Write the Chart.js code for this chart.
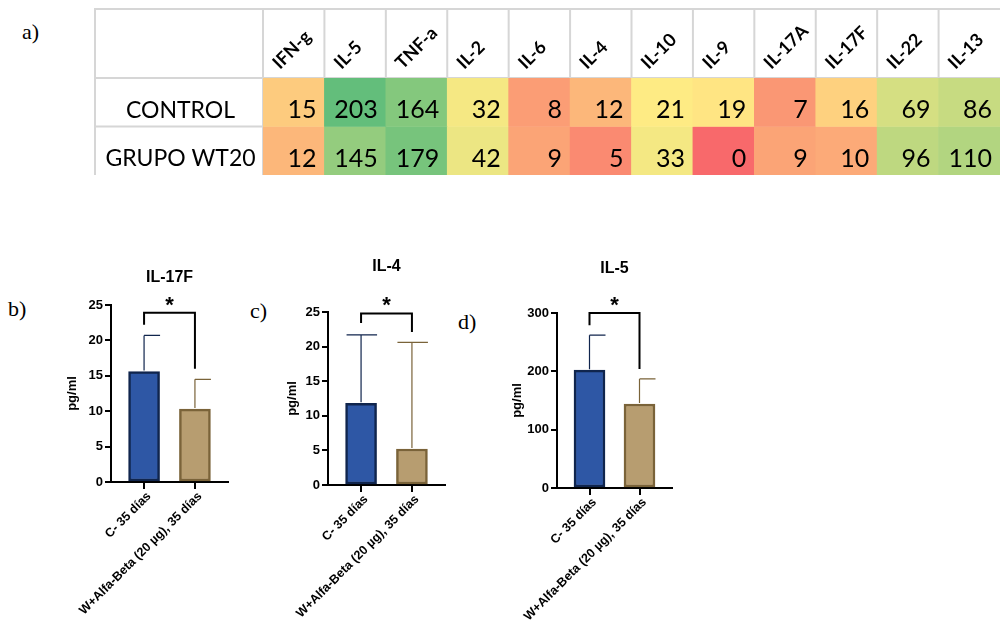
<!DOCTYPE html>
<html>
<head>
<meta charset="utf-8">
<title>Citocinas</title>
<script src="https://cdn.jsdelivr.net/npm/chart.js@4.4.0/dist/chart.umd.min.js"></script>
<style>
    html, body { margin: 0; padding: 0; background: #fff; }
    body { width: 1000px; height: 628px; position: relative; overflow: hidden; }
    .panel { position: absolute; font-family: "Liberation Serif", "Times New Roman", serif; font-size: 22px; line-height: 22px; color: #000; }
    canvas { position: absolute; }
</style>
</head>
<body>
<div class="panel" style="left:22px;top:21px">a)</div>
<div class="panel" style="left:8px;top:298px">b)</div>
<div class="panel" style="left:250px;top:300px">c)</div>
<div class="panel" style="left:458px;top:311px">d)</div>

<canvas id="heatmap" width="906" height="167" style="left:94px;top:8px"></canvas>
<canvas id="chartIL17F"></canvas>
<canvas id="chartIL4"></canvas>
<canvas id="chartIL5"></canvas>

<script>
// ---- data ----
const cytokines = ['IFN-g', 'IL-5', 'TNF-a', 'IL-2', 'IL-6', 'IL-4', 'IL-10', 'IL-9', 'IL-17A', 'IL-17F', 'IL-22', 'IL-13'];
const rowLabels = ['CONTROL', 'GRUPO WT20'];
const controlValues = [15, 203, 164, 32, 8, 12, 21, 19, 7, 16, 69, 86];
const wt20Values = [12, 145, 179, 42, 9, 5, 33, 0, 9, 10, 96, 110];

const groupLabels = ['C- 35 días', 'W+Alfa-Beta (20 µg), 35 días'];
const il17fMeans = [15.6, 10.3];
const il17fSd = [5.1, 4.2];
const il4Means = [11.8, 5.2];
const il4Sd = [9.9, 15.4];
const il5Means = [202, 144];
const il5Sd = [60, 43];

// ---- heatmap (panel a) ----
const heatFont = 'Lato, "Open Sans", sans-serif';

// excel style 3-colour scale: min red, median yellow, max green
function colourScale(allValues) {
    const sorted = [...allValues].sort((a, b) => a - b);
    const lo = sorted[0];
    const hi = sorted[sorted.length - 1];
    const rank = 0.5 * (sorted.length - 1);
    const mid = sorted[Math.floor(rank)] + (sorted[Math.ceil(rank)] - sorted[Math.floor(rank)]) * (rank - Math.floor(rank));
    const red = [248, 105, 107], yellow = [255, 235, 132], green = [99, 190, 123];
    return v => {
        let a, b, t;
        if (v <= mid) { a = red; b = yellow; t = (v - lo) / (mid - lo); }
        else { a = yellow; b = green; t = (v - mid) / (hi - mid); }
        const c = a.map((ch, k) => Math.round(ch + (b[k] - ch) * t));
        return `rgb(${c[0]}, ${c[1]}, ${c[2]})`;
    };
}

const rowValues = [controlValues, wt20Values];
const cellColour = colourScale(controlValues.concat(wt20Values));

const tablePlugin = {
    id: 'tableDecor',
    beforeDatasetsDraw(chart) {
        const { ctx, chartArea, scales: { x, y } } = chart;
        const half = (x.getPixelForValue(1) - x.getPixelForValue(0)) / 2;
        ctx.save();
        ctx.strokeStyle = '#d6d6d6';
        ctx.lineWidth = 2;
        ctx.beginPath();
        ctx.moveTo(0, 1); ctx.lineTo(chart.width, 1);
        ctx.moveTo(1, 0); ctx.lineTo(1, chart.height);
        ctx.moveTo(0, chartArea.top); ctx.lineTo(chart.width, chartArea.top);
        const rowSep = y.getPixelForValue(1);
        ctx.moveTo(0, rowSep); ctx.lineTo(chartArea.left, rowSep);
        cytokines.forEach((c, i) => {
            const px = x.getPixelForValue(i) - half;
            ctx.moveTo(px, 0);
            ctx.lineTo(px, i === 0 ? chart.height : chartArea.top);
        });
        ctx.stroke();
        ctx.restore();
    },
    afterDatasetsDraw(chart) {
        const { ctx, chartArea, scales: { x, y } } = chart;
        const half = (x.getPixelForValue(1) - x.getPixelForValue(0)) / 2;
        ctx.save();
        ctx.fillStyle = '#000';

        // rotated column headers
        ctx.font = `bold 18px ${heatFont}`;
        ctx.textAlign = 'left';
        ctx.textBaseline = 'alphabetic';
        cytokines.forEach((c, i) => {
            const left = x.getPixelForValue(i) - half;
            ctx.save();
            ctx.translate(left + 17, chartArea.top - 8);
            ctx.rotate(-Math.PI / 4);
            ctx.fillText(c, 0, 0);
            ctx.restore();
        });

        // row labels + cell values
        rowValues.forEach((vals, r) => {
            const bottom = y.getPixelForValue(r + 1);
            ctx.font = `23px ${heatFont}`;
            ctx.textAlign = 'center';
            ctx.fillText(rowLabels[r], chartArea.left / 2 + 2, bottom - 9);
            ctx.font = `25px ${heatFont}`;
            ctx.textAlign = 'right';
            vals.forEach((v, i) => {
                ctx.fillText(String(v), x.getPixelForValue(i) + half - 8, bottom - 8.5);
            });
        });
        ctx.restore();
    }
};

new Chart(document.getElementById('heatmap'), {
    type: 'bar',
    data: {
        labels: cytokines,
        datasets: rowValues.map((vals, r) => ({
            label: rowLabels[r],
            data: vals.map(() => [r, r + 1]),
            backgroundColor: vals.map(cellColour),
            borderWidth: 0,
            grouped: false,
            barPercentage: 1,
            categoryPercentage: 1
        }))
    },
    options: {
        responsive: false,
        animation: false,
        events: [],
        layout: { padding: { left: 169, top: 70, right: 0, bottom: 0 } },
        plugins: { legend: { display: false }, tooltip: { enabled: false } },
        scales: {
            x: { display: false },
            y: { display: false, min: 0, max: 2, reverse: true }
        }
    },
    plugins: [tablePlugin]
});

// ---- bar charts (panels b, c, d) ----
const barFont = '"Liberation Sans", Arial, sans-serif';
const barFills = ['#2e57a5', '#b79d70'];
const barEdges = ['#10254d', '#7a6339'];

const errorBarPlugin = {
    id: 'errorBars',
    afterDatasetsDraw(chart, args, opts) {
        const { ctx, scales: { y } } = chart;
        const meta = chart.getDatasetMeta(0);
        ctx.save();
        ctx.lineWidth = 1.2;
        meta.data.forEach((bar, i) => {
            const top = y.getPixelForValue(opts.means[i] + opts.sd[i]);
            const capL = opts.symmetric ? 14.5 : 0;
            ctx.strokeStyle = barEdges[i];
            ctx.beginPath();
            ctx.moveTo(bar.x, bar.y - 1);
            ctx.lineTo(bar.x, top);
            ctx.moveTo(bar.x - capL, top);
            ctx.lineTo(bar.x + 16, top);
            ctx.stroke();
        });

        // significance bracket
        const s = opts.sig;
        const x1 = meta.data[0].x, x2 = meta.data[1].x;
        const yTop = y.getPixelForValue(s.top);
        ctx.strokeStyle = '#000';
        ctx.lineWidth = 2;
        ctx.beginPath();
        ctx.moveTo(x1, y.getPixelForValue(s.left));
        ctx.lineTo(x1, yTop);
        ctx.lineTo(x2, yTop);
        ctx.lineTo(x2, y.getPixelForValue(s.right));
        ctx.stroke();
        ctx.fillStyle = '#000';
        ctx.font = `bold 22px ${barFont}`;
        ctx.textAlign = 'center';
        ctx.textBaseline = 'middle';
        ctx.fillText('*', (x1 + x2) / 2, yTop - 7);
        ctx.restore();
    }
};

function makeBarChart(id, cfg) {
    const canvas = document.getElementById(id);
    const canvasTop = 250;
    const width = cfg.plotRight - cfg.canvasLeft + 3;
    const height = 628 - canvasTop;
    canvas.width = width;
    canvas.height = height;
    canvas.style.left = cfg.canvasLeft + 'px';
    canvas.style.top = canvasTop + 'px';

    const tickFont = { family: barFont, size: 13, weight: 'bold' };
    const titleHalf = 16 * 1.2 / 2;

    return new Chart(canvas, {
        type: 'bar',
        data: {
            datasets: [{
                data: cfg.means.map((m, i) => ({ x: i + 1, y: m })),
                backgroundColor: barFills,
                borderColor: barEdges,
                borderWidth: 2.5,
                borderSkipped: false,
                barThickness: 31
            }]
        },
        options: {
            responsive: false,
            animation: false,
            events: [],
            layout: { padding: { top: 0, right: 3, bottom: 0, left: 0 } },
            plugins: {
                legend: { display: false },
                tooltip: { enabled: false },
                title: {
                    display: true,
                    text: cfg.title,
                    fullSize: false,
                    color: '#000',
                    font: { family: barFont, size: 16, weight: 'bold' },
                    padding: {
                        top: cfg.titleY - canvasTop - titleHalf,
                        bottom: cfg.plotTop - cfg.titleY - titleHalf
                    }
                },
                errorBars: { means: cfg.means, sd: cfg.sd, sig: cfg.sig, symmetric: cfg.symmetric }
            },
            scales: {
                x: {
                    type: 'linear',
                    min: 0.35,
                    max: 2.65,
                    offset: false,
                    afterBuildTicks: s => { s.ticks = groupLabels.map((g, i) => ({ value: i + 1 })); },
                    afterFit: s => { s.height = 628 - cfg.plotBottom; },
                    ticks: {
                        callback: v => groupLabels[Math.round(v) - 1],
                        minRotation: 45,
                        maxRotation: 45,
                        autoSkip: false,
                        color: '#000',
                        padding: 0,
                        labelOffset: 5,
                        font: { family: barFont, size: 12.5, weight: 'bold' }
                    },
                    grid: { offset: false, drawOnChartArea: false, drawTicks: true, tickLength: 7, color: '#000', lineWidth: 2 },
                    border: { display: true, color: '#000', width: 2 }
                },
                y: {
                    min: 0,
                    max: cfg.yMax,
                    afterFit: s => { s.width = cfg.axisX - cfg.canvasLeft; },
                    ticks: { stepSize: cfg.yStep, color: '#000', padding: 2, font: tickFont },
                    grid: { drawOnChartArea: false, drawTicks: true, tickLength: 6, color: '#000', lineWidth: 2 },
                    border: { display: true, color: '#000', width: 2 },
                    title: {
                        display: true,
                        text: 'pg/ml',
                        color: '#000',
                        font: { family: barFont, size: 13, weight: 'bold' },
                        padding: { top: 4, bottom: 0 }
                    }
                }
            }
        },
        plugins: [errorBarPlugin]
    });
}

makeBarChart('chartIL17F', {
    title: 'IL-17F', means: il17fMeans, sd: il17fSd, yMax: 25, yStep: 5,
    sig: { top: 23.9, left: 22.2, right: 16.0 }, symmetric: false,
    canvasLeft: 61, axisX: 111, plotRight: 228, plotTop: 305, plotBottom: 482, titleY: 278
});
makeBarChart('chartIL4', {
    title: 'IL-4', means: il4Means, sd: il4Sd, yMax: 25, yStep: 5,
    sig: { top: 24.8, left: 23.4, right: 22.1 }, symmetric: true,
    canvasLeft: 281, axisX: 328, plotRight: 445, plotTop: 312, plotBottom: 485, titleY: 267
});
makeBarChart('chartIL5', {
    title: 'IL-5', means: il5Means, sd: il5Sd, yMax: 300, yStep: 100,
    sig: { top: 300, left: 279, right: 204 }, symmetric: false,
    canvasLeft: 506, axisX: 557, plotRight: 672, plotTop: 313, plotBottom: 488, titleY: 268.5
});
</script>
</body>
</html>
